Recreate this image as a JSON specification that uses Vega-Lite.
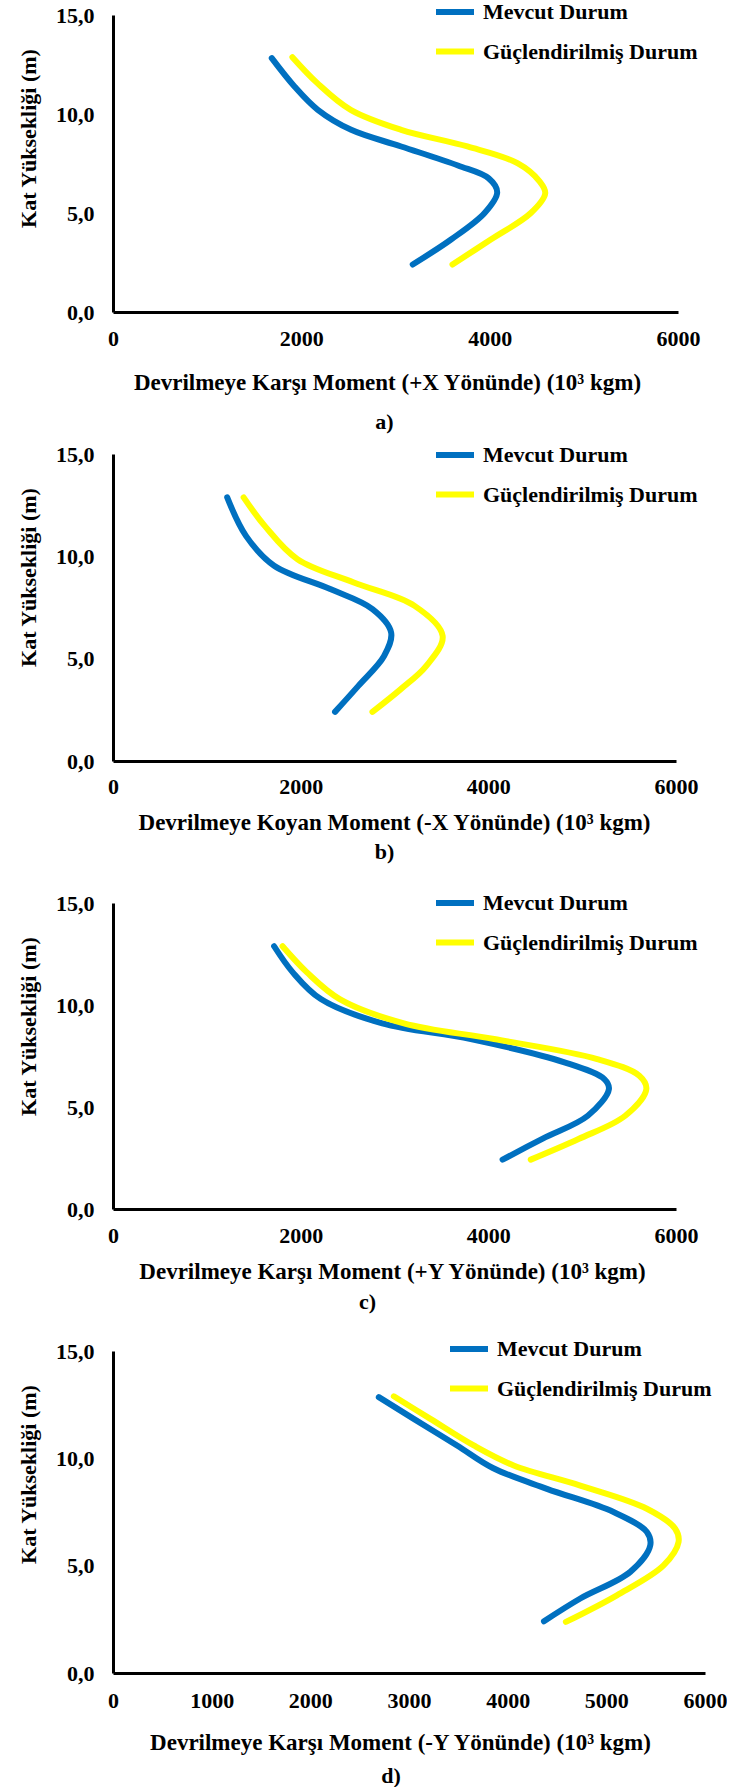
{
  "$schema": "https://vega.github.io/schema/vega-lite/v6.json",
  "background": "white",
  "padding": {"left": 17, "top": -10, "right": 0, "bottom": 0},
  "spacing": 142,
  "bounds": "flush",
  "config": {
    "view": {"stroke": null},
    "font": "Liberation Serif",
    "axis": {
      "grid": false, "ticks": false, "domainColor": "black", "domainWidth": 3,
      "labelFont": "Liberation Serif", "labelFontWeight": "bold", "labelFontSize": 22, "labelColor": "black",
      "titleFont": "Liberation Serif", "titleFontWeight": "bold", "titleFontSize": 22, "titleColor": "black"
    },
    "axisX": {"labelFlush": false, "labelOverlap": false, "format": "d", "titleFontSize": 23},
    "axisY": {"labelPadding": 19, "titlePadding": 15, "titleY": 123},
    "legend": {
      "orient": "none", "title": null, "symbolType": "stroke", "symbolSize": 1444, "symbolStrokeWidth": 6,
      "labelFont": "Liberation Serif", "labelFontWeight": "bold", "labelFontSize": 22, "labelColor": "black",
      "labelOffset": 6, "rowPadding": 5.5, "padding": 0, "labelLimit": 400
    },
    "title": {"font": "Liberation Serif", "fontWeight": "bold", "fontSize": 22, "color": "black", "orient": "bottom"}
  },
  "data": {"values": [
    {"p": "a", "s": "Mevcut Durum", "m": 3183, "h": 2.40},
    {"p": "a", "s": "Mevcut Durum", "m": 3590, "h": 3.66},
    {"p": "a", "s": "Mevcut Durum", "m": 3946, "h": 5.00},
    {"p": "a", "s": "Mevcut Durum", "m": 4080, "h": 6.05},
    {"p": "a", "s": "Mevcut Durum", "m": 3990, "h": 6.75},
    {"p": "a", "s": "Mevcut Durum", "m": 3663, "h": 7.40},
    {"p": "a", "s": "Mevcut Durum", "m": 3060, "h": 8.36},
    {"p": "a", "s": "Mevcut Durum", "m": 2529, "h": 9.20},
    {"p": "a", "s": "Mevcut Durum", "m": 2175, "h": 10.21},
    {"p": "a", "s": "Mevcut Durum", "m": 1927, "h": 11.39},
    {"p": "a", "s": "Mevcut Durum", "m": 1686, "h": 12.82},
    {"p": "a", "s": "Güçlendirilmiş Durum", "m": 3605, "h": 2.40},
    {"p": "a", "s": "Güçlendirilmiş Durum", "m": 4012, "h": 3.66},
    {"p": "a", "s": "Güçlendirilmiş Durum", "m": 4437, "h": 5.00},
    {"p": "a", "s": "Güçlendirilmiş Durum", "m": 4590, "h": 6.00},
    {"p": "a", "s": "Güçlendirilmiş Durum", "m": 4530, "h": 6.60},
    {"p": "a", "s": "Güçlendirilmiş Durum", "m": 4295, "h": 7.52},
    {"p": "a", "s": "Güçlendirilmiş Durum", "m": 3764, "h": 8.36},
    {"p": "a", "s": "Güçlendirilmiş Durum", "m": 3060, "h": 9.20},
    {"p": "a", "s": "Güçlendirilmiş Durum", "m": 2524, "h": 10.21},
    {"p": "a", "s": "Güçlendirilmiş Durum", "m": 2170, "h": 11.56},
    {"p": "a", "s": "Güçlendirilmiş Durum", "m": 1905, "h": 12.87},

    {"p": "b", "s": "Mevcut Durum", "m": 2366, "h": 2.40},
    {"p": "b", "s": "Mevcut Durum", "m": 2615, "h": 3.67},
    {"p": "b", "s": "Mevcut Durum", "m": 2889, "h": 5.13},
    {"p": "b", "s": "Mevcut Durum", "m": 2964, "h": 6.28},
    {"p": "b", "s": "Mevcut Durum", "m": 2765, "h": 7.42},
    {"p": "b", "s": "Mevcut Durum", "m": 2315, "h": 8.40},
    {"p": "b", "s": "Mevcut Durum", "m": 1717, "h": 9.54},
    {"p": "b", "s": "Mevcut Durum", "m": 1417, "h": 11.00},
    {"p": "b", "s": "Mevcut Durum", "m": 1217, "h": 12.88},
    {"p": "b", "s": "Güçlendirilmiş Durum", "m": 2765, "h": 2.40},
    {"p": "b", "s": "Güçlendirilmiş Durum", "m": 3064, "h": 3.50},
    {"p": "b", "s": "Güçlendirilmiş Durum", "m": 3339, "h": 4.65},
    {"p": "b", "s": "Güçlendirilmiş Durum", "m": 3513, "h": 6.11},
    {"p": "b", "s": "Güçlendirilmiş Durum", "m": 3214, "h": 7.58},
    {"p": "b", "s": "Güçlendirilmiş Durum", "m": 2566, "h": 8.72},
    {"p": "b", "s": "Güçlendirilmiş Durum", "m": 1966, "h": 9.86},
    {"p": "b", "s": "Güçlendirilmiş Durum", "m": 1617, "h": 11.49},
    {"p": "b", "s": "Güçlendirilmiş Durum", "m": 1392, "h": 12.88},

    {"p": "c", "s": "Mevcut Durum", "m": 4152, "h": 2.42},
    {"p": "c", "s": "Mevcut Durum", "m": 4580, "h": 3.45},
    {"p": "c", "s": "Mevcut Durum", "m": 5060, "h": 4.57},
    {"p": "c", "s": "Mevcut Durum", "m": 5285, "h": 5.88},
    {"p": "c", "s": "Mevcut Durum", "m": 5236, "h": 6.37},
    {"p": "c", "s": "Mevcut Durum", "m": 4811, "h": 7.19},
    {"p": "c", "s": "Mevcut Durum", "m": 3813, "h": 8.33},
    {"p": "c", "s": "Mevcut Durum", "m": 2870, "h": 9.10},
    {"p": "c", "s": "Mevcut Durum", "m": 2215, "h": 10.29},
    {"p": "c", "s": "Mevcut Durum", "m": 1916, "h": 11.60},
    {"p": "c", "s": "Mevcut Durum", "m": 1717, "h": 12.88},
    {"p": "c", "s": "Güçlendirilmiş Durum", "m": 4452, "h": 2.42},
    {"p": "c", "s": "Güçlendirilmiş Durum", "m": 4961, "h": 3.43},
    {"p": "c", "s": "Güçlendirilmiş Durum", "m": 5459, "h": 4.57},
    {"p": "c", "s": "Güçlendirilmiş Durum", "m": 5684, "h": 5.88},
    {"p": "c", "s": "Güçlendirilmiş Durum", "m": 5609, "h": 6.53},
    {"p": "c", "s": "Güçlendirilmiş Durum", "m": 5160, "h": 7.35},
    {"p": "c", "s": "Güçlendirilmiş Durum", "m": 4062, "h": 8.33},
    {"p": "c", "s": "Güçlendirilmiş Durum", "m": 3100, "h": 9.10},
    {"p": "c", "s": "Güçlendirilmiş Durum", "m": 2416, "h": 10.29},
    {"p": "c", "s": "Güçlendirilmiş Durum", "m": 2067, "h": 11.60},
    {"p": "c", "s": "Güçlendirilmiş Durum", "m": 1807, "h": 12.88},

    {"p": "d", "s": "Mevcut Durum", "m": 4368, "h": 2.41},
    {"p": "d", "s": "Mevcut Durum", "m": 4736, "h": 3.47},
    {"p": "d", "s": "Mevcut Durum", "m": 5243, "h": 4.71},
    {"p": "d", "s": "Mevcut Durum", "m": 5445, "h": 5.94},
    {"p": "d", "s": "Mevcut Durum", "m": 5411, "h": 6.57},
    {"p": "d", "s": "Mevcut Durum", "m": 5073, "h": 7.50},
    {"p": "d", "s": "Mevcut Durum", "m": 4398, "h": 8.58},
    {"p": "d", "s": "Mevcut Durum", "m": 3850, "h": 9.55},
    {"p": "d", "s": "Mevcut Durum", "m": 3487, "h": 10.60},
    {"p": "d", "s": "Mevcut Durum", "m": 3048, "h": 11.84},
    {"p": "d", "s": "Mevcut Durum", "m": 2694, "h": 12.85},
    {"p": "d", "s": "Güçlendirilmiş Durum", "m": 4590, "h": 2.38},
    {"p": "d", "s": "Güçlendirilmiş Durum", "m": 5107, "h": 3.62},
    {"p": "d", "s": "Güçlendirilmiş Durum", "m": 5580, "h": 5.01},
    {"p": "d", "s": "Güçlendirilmiş Durum", "m": 5732, "h": 6.10},
    {"p": "d", "s": "Güçlendirilmiş Durum", "m": 5698, "h": 6.72},
    {"p": "d", "s": "Güçlendirilmiş Durum", "m": 5411, "h": 7.65},
    {"p": "d", "s": "Güçlendirilmiş Durum", "m": 4736, "h": 8.73},
    {"p": "d", "s": "Güçlendirilmiş Durum", "m": 4061, "h": 9.67},
    {"p": "d", "s": "Güçlendirilmiş Durum", "m": 3656, "h": 10.60},
    {"p": "d", "s": "Güçlendirilmiş Durum", "m": 3217, "h": 11.84},
    {"p": "d", "s": "Güçlendirilmiş Durum", "m": 2846, "h": 12.89}
  ]},
  "resolve": {"legend": {"color": "independent"}, "scale": {"color": "independent"}},
  "vconcat": [
    {
      "width": 565, "height": 297,
      "title": {"text": "a)", "offset": 18, "dx": -11},
      "transform": [{"filter": "datum.p === 'a'"}],
      "mark": {"type": "line", "interpolate": "catmull-rom", "strokeWidth": 6, "strokeCap": "round", "strokeJoin": "round"},
      "encoding": {
        "x": {"field": "m", "type": "quantitative", "scale": {"domain": [0, 6000], "nice": false},
          "axis": {"values": [0, 2000, 4000, 6000], "title": "Devrilmeye Karşı Moment (+X Yönünde) (10³ kgm)", "labelPadding": 16, "titlePadding": 22, "titleX": 274}},
        "y": {"field": "h", "type": "quantitative", "scale": {"domain": [0, 15], "nice": false},
          "axis": {"title": "Kat Yüksekliği (m)", "values": [0, 5, 10, 15], "labelExpr": "replace(format(datum.value, '.1f'), '.', ',')"}},
        "color": {"field": "s", "type": "nominal",
          "scale": {"domain": ["Mevcut Durum", "Güçlendirilmiş Durum"], "range": ["#0070C0", "#FFFF00"]},
          "legend": {"legendX": 320, "legendY": -25}},
        "order": {"field": "h", "type": "quantitative"}
      }
    },
    {
      "width": 563, "height": 307,
      "title": {"text": "b)", "offset": 8, "dx": -10},
      "transform": [{"filter": "datum.p === 'b'"}],
      "mark": {"type": "line", "interpolate": "catmull-rom", "strokeWidth": 6, "strokeCap": "round", "strokeJoin": "round"},
      "encoding": {
        "x": {"field": "m", "type": "quantitative", "scale": {"domain": [0, 6000], "nice": false},
          "axis": {"values": [0, 2000, 4000, 6000], "title": "Devrilmeye Koyan Moment (-X Yönünde) (10³ kgm)", "labelPadding": 15, "titlePadding": 14, "titleX": 281}},
        "y": {"field": "h", "type": "quantitative", "scale": {"domain": [0, 15], "nice": false},
          "axis": {"title": "Kat Yüksekliği (m)", "values": [0, 5, 10, 15], "labelExpr": "replace(format(datum.value, '.1f'), '.', ',')"}},
        "color": {"field": "s", "type": "nominal",
          "scale": {"domain": ["Mevcut Durum", "Güçlendirilmiş Durum"], "range": ["#0070C0", "#FFFF00"]},
          "legend": {"legendX": 320, "legendY": -21}},
        "order": {"field": "h", "type": "quantitative"}
      }
    },
    {
      "width": 563, "height": 306,
      "title": {"text": "c)", "offset": 9, "dx": -27},
      "transform": [{"filter": "datum.p === 'c'"}],
      "mark": {"type": "line", "interpolate": "catmull-rom", "strokeWidth": 6, "strokeCap": "round", "strokeJoin": "round"},
      "encoding": {
        "x": {"field": "m", "type": "quantitative", "scale": {"domain": [0, 6000], "nice": false},
          "axis": {"values": [0, 2000, 4000, 6000], "title": "Devrilmeye Karşı Moment (+Y Yönünde) (10³ kgm)", "labelPadding": 16, "titlePadding": 14, "titleX": 279}},
        "y": {"field": "h", "type": "quantitative", "scale": {"domain": [0, 15], "nice": false},
          "axis": {"title": "Kat Yüksekliği (m)", "values": [0, 5, 10, 15], "labelExpr": "replace(format(datum.value, '.1f'), '.', ',')"}},
        "color": {"field": "s", "type": "nominal",
          "scale": {"domain": ["Mevcut Durum", "Güçlendirilmiş Durum"], "range": ["#0070C0", "#FFFF00"]},
          "legend": {"legendX": 320, "legendY": -22}},
        "order": {"field": "h", "type": "quantitative"}
      }
    },
    {
      "width": 592, "height": 322,
      "title": {"text": "d)", "offset": 12, "dx": -18},
      "transform": [{"filter": "datum.p === 'd'"}],
      "mark": {"type": "line", "interpolate": "catmull-rom", "strokeWidth": 6, "strokeCap": "round", "strokeJoin": "round"},
      "encoding": {
        "x": {"field": "m", "type": "quantitative", "scale": {"domain": [0, 6000], "nice": false},
          "axis": {"values": [0, 1000, 2000, 3000, 4000, 5000, 6000], "title": "Devrilmeye Karşı Moment (-Y Yönünde) (10³ kgm)", "labelPadding": 17, "titlePadding": 20, "titleX": 287}},
        "y": {"field": "h", "type": "quantitative", "scale": {"domain": [0, 15], "nice": false},
          "axis": {"title": "Kat Yüksekliği (m)", "values": [0, 5, 10, 15], "labelExpr": "replace(format(datum.value, '.1f'), '.', ',')"}},
        "color": {"field": "s", "type": "nominal",
          "scale": {"domain": ["Mevcut Durum", "Güçlendirilmiş Durum"], "range": ["#0070C0", "#FFFF00"]},
          "legend": {"legendX": 334, "legendY": -24}},
        "order": {"field": "h", "type": "quantitative"}
      }
    }
  ]
}
